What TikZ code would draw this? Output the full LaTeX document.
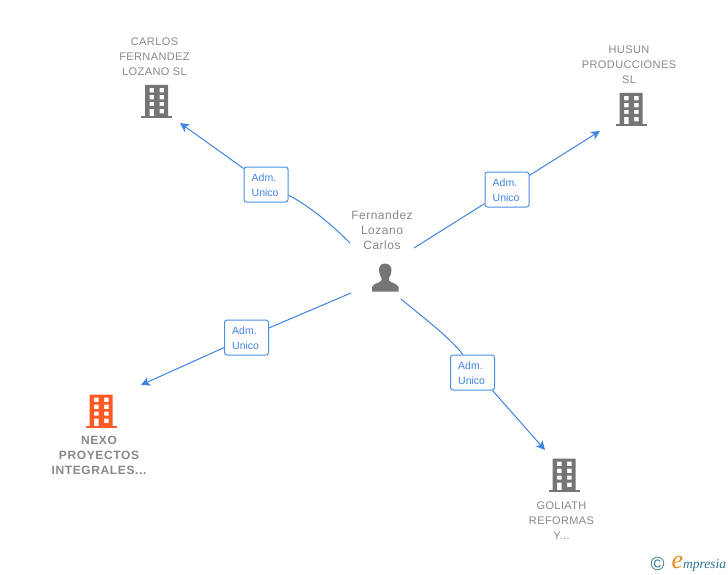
\documentclass[tikz,border=0pt]{standalone}
\usepackage{fontspec}
\setmainfont{Liberation Sans}
\newfontfamily\logofont{Liberation Serif}
\usetikzlibrary{arrows.meta}
\definecolor{linkblue}{HTML}{3F84E0}
\definecolor{boxblue}{HTML}{4A90E2}
\definecolor{labelgray}{HTML}{888888}
\definecolor{icongray}{HTML}{757575}
\definecolor{iconorange}{HTML}{FF5A26}
\definecolor{logoteal}{HTML}{2F7390}
\definecolor{logoorange}{HTML}{F08A1D}
\tikzset{
  x=1pt,y=-1pt,
  company/.style={text=labelgray,align=center,inner sep=0pt,font=\fontsize{11}{15}\selectfont\addfontfeatures{LetterSpace=3.6}},
  companybold/.style={text=labelgray,align=center,inner sep=0pt,font=\fontsize{12}{15}\selectfont\bfseries\addfontfeatures{LetterSpace=5.2}},
  personlabel/.style={text=labelgray,align=center,inner sep=0pt,font=\fontsize{12}{15}\selectfont\addfontfeatures{LetterSpace=4.2}},
  rolebox/.style={draw=boxblue,line width=1pt,fill=white,rounded corners=2.5pt,minimum width=44pt,minimum height=35pt,inner sep=0pt,text=linkblue},
  roletext/.style={text=linkblue,inner sep=0pt,align=left,anchor=west,font=\fontsize{10.5}{15}\selectfont},
  link/.style={draw=linkblue,line width=1pt},
  linkarrow/.style={link,-{Stealth[length=9pt,width=9pt,inset=2.5pt]}},
  pics/building/.style={code={
    \fill[#1,even odd rule]
      (-11.5,-33.5) rectangle (11.5,-2)
      (-7,-30.5) rectangle (-2.5,-26)
      (3,-30.5) rectangle (7.5,-26)
      (-7,-23.5) rectangle (-2.5,-19)
      (3,-23.5) rectangle (7.5,-19)
      (-7,-16.5) rectangle (-2.5,-12.5)
      (3,-16.5) rectangle (7.5,-12.5)
      (3,-9.5) rectangle (7.5,-5)
      (-7,-9.5) rectangle (-2.5,-2);
    \fill[#1] (-15.5,-2.5) rectangle (15.5,0);
  }}
}
\begin{document}
\begin{tikzpicture}
\useasboundingbox (0,0) rectangle (728,575);
\fill[white] (0,0) rectangle (728,575);

% company labels
\node[company] (carloslabel) at (154.5,56.7) {CARLOS\\FERNANDEZ\\LOZANO SL};
\node[company] (husunlabel) at (629,64.7) {HUSUN\\PRODUCCIONES\\SL};
\node[companybold] (nexolabel) at (99,455) {NEXO\\PROYECTOS\\INTEGRALES...};
\node[company] (goliathlabel) at (561.5,520.7) {GOLIATH\\REFORMAS\\Y...};
\node[personlabel] (personlabeltext) at (382,230) {Fernandez\\Lozano\\Carlos};

% icons
\pic at (156.5,118.5) {building=icongray};
\pic at (631,126.5) {building=icongray};
\pic at (101,428) {building=iconorange};
\pic at (564,492) {building=icongray};

% person icon
\fill[icongray]
  (385,263.5) .. controls (380.5,263.5) and (378.8,267) .. (379,270.5)
  .. controls (379.2,274) and (380.5,276.5) .. (381.8,278.5)
  .. controls (382,280.5) and (381,281.5) .. (379,282.3)
  .. controls (375,283.8) and (372.5,285) .. (372,287)
  -- (372,291.5) -- (398.5,291.5) -- (398.5,287)
  .. controls (398,285) and (395.5,283.8) .. (391.5,282.3)
  .. controls (389.5,281.5) and (388.5,280.5) .. (388.7,278.5)
  .. controls (390,276.5) and (391.3,274) .. (391.5,270.5)
  .. controls (391.7,267) and (389.5,263.5) .. (385,263.5) -- cycle;

% free ends
\coordinate (pcarlos) at (350,243);
\coordinate (phusun) at (414,248);
\coordinate (pnexo) at (351,293);
\coordinate (pgoliath) at (401,299);
\coordinate (tcarlos) at (180,123);
\coordinate (thusun) at (600,131);
\coordinate (tnexo) at (141,385);
\coordinate (tgoliath) at (545,450);

% role boxes
\node[rolebox] (bcarlos) at (266,184.5) {};
\node[rolebox] (bhusun) at (507,189.5) {};
\node[rolebox] (bnexo) at (246.5,337.5) {};
\node[rolebox] (bgoliath) at (472.5,372.5) {};
\node[roletext] (tbcarlos) at (251.5,185) {Adm.\\Unico};
\node[roletext] (tbhusun) at (492.5,190) {Adm.\\Unico};
\node[roletext] (tbnexo) at (232,338) {Adm.\\Unico};
\node[roletext] (tbgoliath) at (458,373) {Adm.\\Unico};

% connectors
\draw[link] (pcarlos) .. controls (325,218) and (305,204) .. (bcarlos.-25);
\draw[linkarrow] (bcarlos) -- (tcarlos);
\draw[link] (phusun) -- (bhusun);
\draw[linkarrow] (bhusun) -- (thusun);
\draw[link] (pnexo) -- (bnexo);
\draw[linkarrow] (bnexo) -- (tnexo);
\draw[link] (pgoliath) .. controls (425,319) and (448,336) .. (bgoliath.118);
\draw[linkarrow] (bgoliath.-42) -- (tgoliath);

% logo
\node[text=logoteal,inner sep=0pt,font=\fontsize{19}{19}\selectfont] (logoc) at (657.5,564) {©};
\node[text=logoorange,inner sep=0pt,font=\logofont\itshape\fontsize{26}{26}\selectfont] (logoe) at (677.5,562.5) {e};
\node[text=logoteal,inner sep=0pt,anchor=base west,font=\logofont\itshape\fontsize{13.5}{14}\selectfont] (logotext) at (683,568) {mpresia};
\end{tikzpicture}
\end{document}
